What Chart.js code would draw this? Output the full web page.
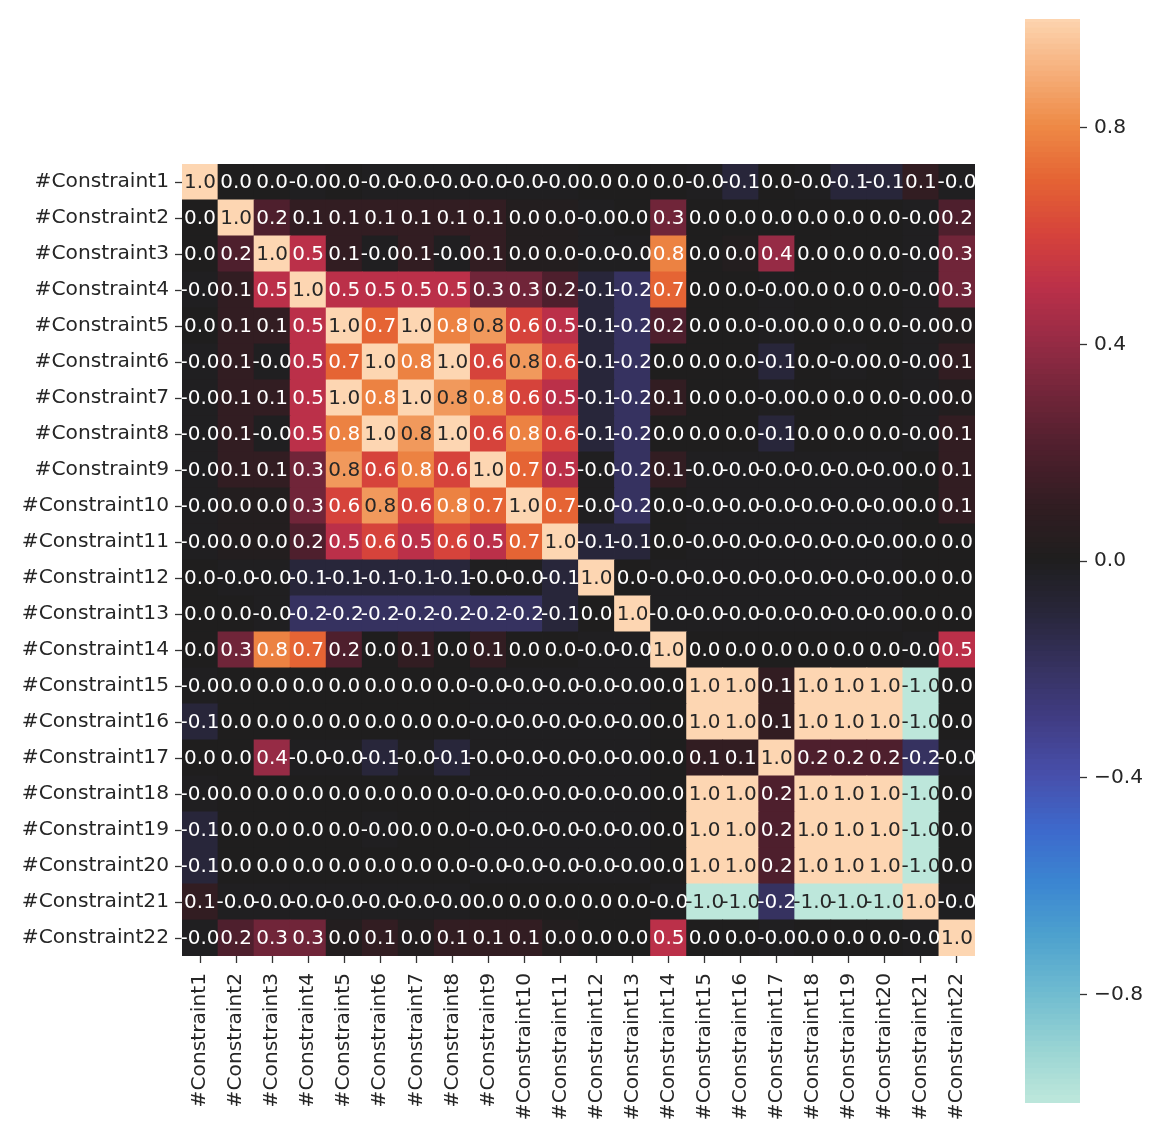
<!DOCTYPE html>
<html>
<head>
<meta charset="utf-8">
<script src="https://cdn.jsdelivr.net/npm/chart.js@4.4.1/dist/chart.umd.min.js"></script>
<style>
  html, body { margin: 0; padding: 0; background: #ffffff; }
  #page { position: relative; width: 1152px; height: 1132px; overflow: hidden; }
  #heat { position: absolute; left: 0; top: 0; }
  #cbar { position: absolute; left: 1000px; top: 0; }
</style>
</head>
<body>
<div id="page">
  <canvas id="heat" width="1000" height="1132"></canvas>
  <canvas id="cbar" width="152" height="1132"></canvas>
</div>
<script>
// Constraint names (rows top to bottom, columns left to right)
const constraintNames = [
  '#Constraint1', '#Constraint2', '#Constraint3', '#Constraint4', '#Constraint5',
  '#Constraint6', '#Constraint7', '#Constraint8', '#Constraint9', '#Constraint10',
  '#Constraint11', '#Constraint12', '#Constraint13', '#Constraint14', '#Constraint15',
  '#Constraint16', '#Constraint17', '#Constraint18', '#Constraint19', '#Constraint20',
  '#Constraint21', '#Constraint22'
];

// Pairwise correlation coefficients, one array per constraint
const corr = [
  [1.0, 0, 0, -0.01, 0, -0.01, -0.01, -0.01, -0.01, -0.01, -0.01, 0, 0, 0, -0.01, -0.1, 0, -0.01, -0.1, -0.1, 0.1, -0.01],
  [0, 1.0, 0.2, 0.1, 0.1, 0.1, 0.1, 0.1, 0.1, 0.02, 0.02, -0.01, 0, 0.3, 0, 0, 0, 0, 0, 0, -0.01, 0.2],
  [0, 0.2, 1.0, 0.5, 0.1, -0.01, 0.1, -0.01, 0.1, 0.02, 0.02, -0.01, -0.01, 0.78, 0, 0.02, 0.4, 0, 0, 0, -0.01, 0.3],
  [-0.01, 0.1, 0.5, 1.0, 0.5, 0.5, 0.5, 0.5, 0.3, 0.3, 0.2, -0.1, -0.2, 0.7, 0, 0, -0.01, 0, 0, 0, -0.01, 0.3],
  [0, 0.1, 0.1, 0.5, 1.0, 0.7, 1.0, 0.78, 0.84, 0.6, 0.5, -0.1, -0.2, 0.2, 0, 0, -0.01, 0, 0, 0, -0.01, 0.02],
  [-0.01, 0.1, -0.01, 0.5, 0.7, 1.0, 0.78, 1.0, 0.6, 0.84, 0.6, -0.1, -0.2, 0, 0, 0, -0.1, 0, -0.01, 0, -0.01, 0.1],
  [-0.01, 0.1, 0.1, 0.5, 1.0, 0.78, 1.0, 0.84, 0.78, 0.6, 0.5, -0.1, -0.2, 0.1, 0, 0, -0.01, 0, 0, 0, -0.01, 0.02],
  [-0.01, 0.1, -0.01, 0.5, 0.78, 1.0, 0.84, 1.0, 0.6, 0.78, 0.6, -0.1, -0.2, 0, 0, 0, -0.1, 0, 0, 0, -0.01, 0.1],
  [-0.01, 0.1, 0.1, 0.3, 0.84, 0.6, 0.78, 0.6, 1.0, 0.7, 0.5, -0.01, -0.2, 0.1, -0.01, -0.01, -0.01, -0.01, -0.01, -0.01, 0, 0.1],
  [-0.01, 0.02, 0.02, 0.3, 0.6, 0.84, 0.6, 0.78, 0.7, 1.0, 0.7, -0.01, -0.2, 0, -0.01, -0.01, -0.01, -0.01, -0.01, -0.01, 0, 0.1],
  [-0.01, 0.02, 0.02, 0.2, 0.5, 0.6, 0.5, 0.6, 0.5, 0.7, 1.0, -0.1, -0.1, 0, -0.01, -0.01, -0.01, -0.01, -0.01, -0.01, 0, 0],
  [0, -0.01, -0.01, -0.1, -0.1, -0.1, -0.1, -0.1, -0.01, -0.01, -0.1, 1.0, 0, -0.01, -0.01, -0.01, -0.01, -0.01, -0.01, -0.01, 0, 0],
  [0, 0, -0.01, -0.2, -0.2, -0.2, -0.2, -0.2, -0.2, -0.2, -0.1, 0, 1.0, -0.01, -0.01, -0.01, -0.01, -0.01, -0.01, -0.01, 0, 0],
  [0, 0.3, 0.78, 0.7, 0.2, 0, 0.1, 0, 0.1, 0, 0, -0.01, -0.01, 1.0, 0, 0, 0, 0, 0, 0, -0.01, 0.5],
  [-0.01, 0, 0, 0, 0, 0, 0, 0, -0.01, -0.01, -0.01, -0.01, -0.01, 0, 1.0, 1.0, 0.1, 1.0, 1.0, 1.0, -1.0, 0],
  [-0.1, 0, 0, 0, 0, 0, 0, 0, -0.01, -0.01, -0.01, -0.01, -0.01, 0, 1.0, 1.0, 0.1, 1.0, 1.0, 1.0, -1.0, 0],
  [0, 0, 0.4, -0.01, -0.01, -0.1, -0.01, -0.1, -0.01, -0.01, -0.01, -0.01, -0.01, 0, 0.1, 0.1, 1.0, 0.2, 0.2, 0.2, -0.2, -0.01],
  [-0.01, 0, 0, 0, 0, 0, 0, 0, -0.01, -0.01, -0.01, -0.01, -0.01, 0, 1.0, 1.0, 0.2, 1.0, 1.0, 1.0, -1.0, 0],
  [-0.1, 0, 0, 0, 0, -0.01, 0, 0, -0.01, -0.01, -0.01, -0.01, -0.01, 0, 1.0, 1.0, 0.2, 1.0, 1.0, 1.0, -1.0, 0],
  [-0.1, 0, 0, 0, 0, 0, 0, 0, -0.01, -0.01, -0.01, -0.01, -0.01, 0, 1.0, 1.0, 0.2, 1.0, 1.0, 1.0, -1.0, 0],
  [0.1, -0.01, -0.01, -0.01, -0.01, -0.01, -0.01, -0.01, 0, 0, 0, 0, 0, -0.01, -1.0, -1.0, -0.2, -1.0, -1.0, -1.0, 1.0, -0.01],
  [-0.01, 0.2, 0.3, 0.3, 0.02, 0.1, 0.02, 0.1, 0.1, 0.1, 0.02, 0, 0, 0.5, 0, 0, -0.01, 0, 0, 0, -0.01, 1.0]
];

// Colour bar tick positions
const colorbarTicks = [0.8, 0.4, 0.0, -0.4, -0.8];

// Diverging "icefire" style colour ramp, value -> colour
const rampValues = [-1.0, -0.9, -0.8, -0.7, -0.6, -0.5, -0.4, -0.3, -0.2, -0.1, 0.0,
                    0.1, 0.2, 0.3, 0.4, 0.5, 0.6, 0.7, 0.8, 0.9, 1.0];
const rampColors = ['#bde7db', '#97d3d3', '#6fbbd0', '#4ea2ce', '#3b86d1', '#3d69cc', '#474fab',
                    '#413d85', '#363260', '#28263a', '#1f1e1e', '#321d22', '#4e1f2d', '#702539',
                    '#962b45', '#bb3049', '#d6433b', '#e56434', '#ee8a46', '#f6b07c', '#fdd6b2'];

function hexToRgb(h) {
  return [parseInt(h.slice(1, 3), 16), parseInt(h.slice(3, 5), 16), parseInt(h.slice(5, 7), 16)];
}
const rampRgb = rampColors.map(hexToRgb);

function rampRgbAt(v) {
  const t = Math.max(-1, Math.min(1, v));
  for (let i = 0; i < rampValues.length - 1; i++) {
    if (t <= rampValues[i + 1]) {
      const f = (t - rampValues[i]) / (rampValues[i + 1] - rampValues[i]);
      const a = rampRgb[i], b = rampRgb[i + 1];
      return [0, 1, 2].map(k => a[k] + (b[k] - a[k]) * f);
    }
  }
  return rampRgb[rampRgb.length - 1];
}
function colorFor(v) {
  const c = rampRgbAt(v);
  return 'rgb(' + c.map(x => Math.round(x)).join(',') + ')';
}
// Dark annotation text on light cells, white text on dark ones
function textColorFor(v) {
  const lin = rampRgbAt(v).map(x => {
    const s = x / 255;
    return s <= 0.03928 ? s / 12.92 : Math.pow((s + 0.055) / 1.055, 2.4);
  });
  const lum = 0.2126 * lin[0] + 0.7152 * lin[1] + 0.0722 * lin[2];
  return lum > 0.408 ? '#262626' : '#ffffff';
}

const FONT = { family: '"DejaVu Sans", sans-serif', size: 20.2 };
const CELL_FONT = '20px "DejaVu Sans", sans-serif';
const INK = '#262626';

// One point per matrix cell
const cells = [];
corr.forEach((row, r) => row.forEach((v, c) => cells.push({ x: c, y: r, v: v })));

function cellRadius(ctx) {
  const xs = ctx.chart.scales.x;
  const w = Math.abs(xs.getPixelForValue(1) - xs.getPixelForValue(0));
  return (w + 0.8) / Math.SQRT2;
}

const cellText = {
  id: 'cellText',
  afterDatasetsDraw(chart) {
    const meta = chart.getDatasetMeta(0);
    const ctx = chart.ctx;
    ctx.save();
    ctx.font = CELL_FONT;
    ctx.textAlign = 'center';
    ctx.textBaseline = 'middle';
    meta.data.forEach((pt, i) => {
      const v = cells[i].v;
      ctx.fillStyle = textColorFor(v);
      ctx.fillText(v.toFixed(1), pt.x, pt.y + 1);
    });
    ctx.restore();
  }
};

const N = constraintNames.length;

new Chart(document.getElementById('heat'), {
  type: 'scatter',
  data: {
    datasets: [{
      data: cells,
      pointStyle: 'rect',
      pointRadius: cellRadius,
      pointHoverRadius: cellRadius,
      pointBorderWidth: 0,
      pointHoverBorderWidth: 0,
      backgroundColor: ctx => colorFor(ctx.raw.v),
      hoverBackgroundColor: ctx => colorFor(ctx.raw.v),
      clip: 0
    }]
  },
  plugins: [cellText],
  options: {
    responsive: false,
    animation: false,
    events: [],
    layout: { padding: { left: 0, top: 164, right: 25, bottom: 0 } },
    plugins: { legend: { display: false }, tooltip: { enabled: false } },
    scales: {
      x: {
        type: 'linear', position: 'bottom', min: -0.5, max: N - 0.5,
        afterBuildTicks: s => { s.ticks = constraintNames.map((_, i) => ({ value: i })); },
        afterFit: s => { s.height = 1132 - 956; },
        ticks: {
          autoSkip: false, minRotation: 90, maxRotation: 90, padding: 10,
          font: FONT, color: INK,
          callback: v => constraintNames[v]
        },
        grid: { display: true, drawOnChartArea: false, tickLength: 7, tickWidth: 1.3, tickColor: '#333333' },
        border: { display: false }
      },
      y: {
        type: 'linear', position: 'left', min: -0.5, max: N - 0.5, reverse: true,
        afterBuildTicks: s => { s.ticks = constraintNames.map((_, i) => ({ value: i })); },
        afterFit: s => { s.width = 182; },
        ticks: {
          autoSkip: false, padding: 6, font: FONT, color: INK,
          callback: v => constraintNames[v]
        },
        grid: { display: true, drawOnChartArea: false, tickLength: 7, tickWidth: 1.3, tickColor: '#333333' },
        border: { display: false }
      }
    }
  }
});

// Colour bar: thin floating bars covering -1 .. 1, each slightly overlapping
// its neighbour so no seams show between them
const STEPS = 200;
const OVERLAP = 0.004;
const barEdges = [];
for (let i = 0; i <= STEPS; i++) barEdges.push(-1 + 2 * i / STEPS);

function cbLabel(v) {
  if (Math.abs(v) < 1e-9) return '0.0';
  return v < 0 ? '\u2212' + (-v).toFixed(1) : v.toFixed(1);
}

const cbDatasets = [];
for (let i = 0; i < STEPS; i++) {
  const lo = barEdges[i], hi = barEdges[i + 1];
  cbDatasets.push({
    data: [[Math.max(-1, lo - OVERLAP), Math.min(1, hi + OVERLAP)]],
    backgroundColor: colorFor((lo + hi) / 2),
    borderWidth: 0,
    grouped: false,
    barPercentage: 1,
    categoryPercentage: 1
  });
}

new Chart(document.getElementById('cbar'), {
  type: 'bar',
  data: { labels: [''], datasets: cbDatasets },
  options: {
    responsive: false,
    animation: false,
    events: [],
    layout: { padding: { left: 25, top: 17, bottom: 29, right: 0 } },
    plugins: { legend: { display: false }, tooltip: { enabled: false } },
    scales: {
      x: { display: false },
      y: {
        type: 'linear', position: 'right', min: -1, max: 1,
        afterBuildTicks: s => { s.ticks = colorbarTicks.map(v => ({ value: v })); },
        afterFit: s => { s.width = 72; },
        ticks: { font: FONT, color: INK, padding: 7, callback: v => cbLabel(v) },
        grid: { display: true, drawOnChartArea: false, tickLength: 7, tickWidth: 1.3, tickColor: '#333333' },
        border: { display: false }
      }
    }
  }
});
</script>
</body>
</html>
